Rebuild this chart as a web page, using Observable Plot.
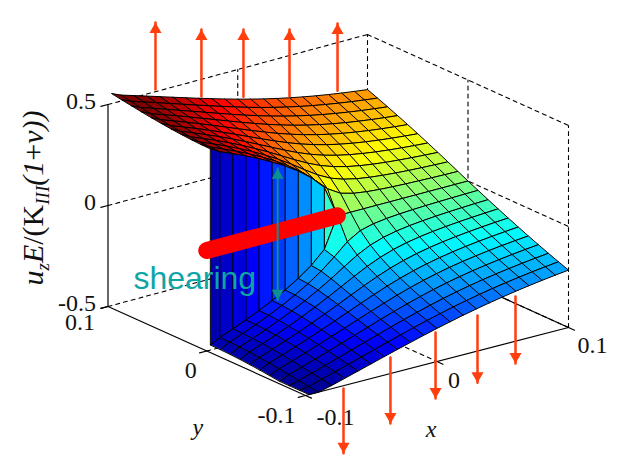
<!DOCTYPE html>
<html>
<head>
<meta charset="utf-8">
<script src="https://cdn.jsdelivr.net/npm/d3@7"></script>
<script src="https://cdn.jsdelivr.net/npm/@observablehq/plot@0.6"></script>
<style>html,body{margin:0;padding:0;background:#fff}svg{display:block}</style>
</head>
<body>
<div id="chart"></div>
<script>
// Surface table (thousandths of the sheet amplitude)
const gridX = [-0.097,-0.09,-0.08,-0.07,-0.06,-0.05,-0.04,-0.03,-0.02,-0.01,0,0.01,0.02,0.03,0.04,0.05,0.06,0.07,0.08,0.09,0.1];
const gridY = [0.1,0.09,0.08,0.07,0.06,0.05,0.04,0.03,0.02,0.01,0];
const sheetShape = [
[3474,3351,3225,3099,2972,2844,2718,2592,2470,2350,2236,2128,2024,1929,1840,1758,1682,1613,1550,1492,1439],
[3425,3296,3166,3033,2900,2766,2631,2499,2369,2242,2121,2007,1900,1801,1710,1627,1552,1484,1421,1365,1314],
[3377,3243,3108,2969,2828,2686,2544,2403,2263,2129,2000,1879,1768,1665,1572,1489,1414,1347,1287,1233,1184],
[3332,3194,3052,2907,2759,2608,2456,2304,2154,2009,1871,1742,1625,1519,1425,1342,1269,1204,1147,1096,1050],
[3291,3148,3000,2848,2691,2531,2368,2203,2040,1882,1732,1594,1471,1362,1267,1185,1115,1053,1000,953,912],
[3254,3106,2952,2793,2628,2457,2281,2101,1922,1746,1581,1432,1301,1190,1096,1018,951,895,847,805,768],
[3223,3070,2911,2744,2570,2388,2197,2000,1799,1600,1414,1250,1112,1000,910,838,778,729,687,651,621],
[3197,3040,2876,2703,2521,2327,2121,1903,1674,1443,1225,1040,896,788,707,645,595,555,522,493,469],
[3178,3018,2850,2672,2482,2279,2058,1817,1554,1272,1000,786,644,550,486,439,403,374,351,331,315],
[3166,3004,2834,2652,2458,2247,2015,1755,1455,1099,707,455,344,285,248,223,203,189,176,166,158],
[3162,3000,2828,2646,2449,2236,2000,1732,1414,1000,0,0,0,0,0,0,0,0,0,0,0]
];
const upperAmp = 0.158, lowerAmp = -0.15;

const xTicks = [-0.1,0,0.1];
const yTicks = [0.1,0,-0.1];
const zTicks = [0.5,0,-0.5];
const xTickText = ["-0.1","0","0.1"];
const yTickText = ["0.1","0","-0.1"];
const zTickText = ["0.5","0","-0.5"];

// Shear arrows: x position, z at tail, z at tip
const topArrowX = [-0.0634,-0.028,0.0044,0.0399,0.0769];
const topArrowTail = [0.511,0.415,0.358,0.297,0.262];
const topArrowTip = [0.843,0.747,0.690,0.629,0.595];
const botArrowX = [-0.0711,-0.0354,-0.0011,0.0308,0.0597];
const botArrowTail = [-0.514,-0.42,-0.354,-0.323,-0.278];
const botArrowTip = [-0.837,-0.749,-0.682,-0.657,-0.611];

// Camera: screen position of the box corners (floor and ceiling)
const floorC = {A:[107.5,306],B:[305,395],C:[568,327],D:[367,236]};
const ceilC = {A:[107.5,104],B:[305,195],C:[568,125],D:[367,34]};

function bilin(c,x,y,k){
  const u=(x+0.1)/0.2, v=(y+0.1)/0.2;
  return (1-u)*(1-v)*c.B[k]+u*(1-v)*c.C[k]+u*v*c.D[k]+(1-u)*v*c.A[k];
}
const px=(x,y,z)=>{const t=z+0.5;return bilin(floorC,x,y,0)*(1-t)+bilin(ceilC,x,y,0)*t;};
const py=(x,y,z)=>{const t=z+0.5;return bilin(floorC,x,y,1)*(1-t)+bilin(ceilC,x,y,1)*t;};

const X=d=>px(d.x,d.y,d.z), Y=d=>py(d.x,d.y,d.z);
const P=(x,y,z)=>({x,y,z});
const seg=(a,b,s)=>[{...a,s},{...b,s}];

// Surface cells, far to near
const upperZ=(r,c)=>upperAmp*sheetShape[r][c]/1000;
const lowerZ=(r,c)=>Math.max(-0.5,lowerAmp*sheetShape[r][c]/1000);
const verts=[]; let id=0;
function quad(pts,v){id++;for(const p of pts)verts.push({...p,id,v});}
function sheet(rows,zf,sgn){
  for(const r of rows){
    for(let c=gridX.length-2;c>=0;c--){
      const y0=sgn*gridY[r], y1=sgn*gridY[r+1];
      const pts=[P(gridX[c],y0,zf(r,c)),P(gridX[c+1],y0,zf(r,c+1)),P(gridX[c+1],y1,zf(r+1,c+1)),P(gridX[c],y1,zf(r+1,c))];
      quad(pts,d3.mean(pts,p=>p.z));
    }
  }
}
const rowIdx=d3.range(gridY.length-1);
sheet(rowIdx,upperZ,1);
const jr=gridY.length-1;
for(let c=9;c>=0;c--){
  const pts=[P(gridX[c],0,lowerZ(jr,c)),P(gridX[c+1],0,lowerZ(jr,c+1)),P(gridX[c+1],0,upperZ(jr,c+1)),P(gridX[c],0,upperZ(jr,c))];
  quad(pts,(lowerZ(jr,c)+lowerZ(jr,c+1))/2);
}
sheet(rowIdx.slice().reverse(),lowerZ,-1);

// Box
const solid=[], dashed=[];
const L=-0.1,H=0.1;
let s=0;
const addS=(a,b)=>solid.push(...seg(a,b,s++));
const addD=(a,b)=>dashed.push(...seg(a,b,s++));
addS(P(L,H,-0.5),P(L,H,0.5));
addS(P(L,H,-0.5),P(L,L,-0.5));
addS(P(L,L,-0.5),P(H,L,-0.5));
addS(P(H,H,-0.5),P(H,L,-0.5));
for(const z of zTicks){
  addD(P(L,H,z),P(H,H,z));
  addD(P(H,H,z),P(H,L,z));
  addS(P(L,H,z),P(L-0.0055,H,z));
}
addD(P(H,H,-0.5),P(H,H,0.5));
addD(P(H,L,-0.5),P(H,L,0.5));
addD(P(0,H,-0.5),P(0,H,0.5));
addD(P(H,0,-0.5),P(H,0,0.5));
addD(P(0,H,-0.5),P(0,L,-0.5));
addD(P(L,0,-0.5),P(H,0,-0.5));
for(const y of yTicks) addS(P(L,y,-0.5),P(L-0.0055,y,-0.5));
for(const x of xTicks) addS(P(x,L,-0.5),P(x,L-0.006,-0.5));

const topArrows=topArrowX.map((x,i)=>seg(P(x,H,topArrowTail[i]),P(x,H,topArrowTip[i]),i)).flat();
const botArrows=botArrowX.map((x,i)=>seg(P(x,L,botArrowTail[i]),P(x,L,botArrowTip[i]),i)).flat();
const topHeads=topArrowX.map((x,i)=>P(x,H,topArrowTip[i]));
const botHeads=botArrowX.map((x,i)=>P(x,L,botArrowTip[i]));
const shearTop=P(-0.0457,0,0.314), shearBot=P(-0.0457,0,-0.34);
const ORANGE="#ff3d0d", TEAL="#0a9292";
const serif="'Liberation Serif','Times New Roman',serif";

const xLabOff=[[30,22],[17,19],[24,18]];
const yLabOff=[[-28,16],[-16,19],[-29,20]];

const plot=Plot.plot({
  width:625,height:467,margin:0,
  x:{domain:[0,625],axis:null},
  y:{domain:[467,0],axis:null},
  color:{type:"linear",domain:[-0.5,-0.375,-0.125,0.125,0.375,0.5],
    range:["#00008f","#0000ff","#00ffff","#ffff00","#ff0000","#800000"],clamp:true},
  style:{background:"#fff"},
  marks:[
    Plot.line(dashed,{x:X,y:Y,z:"s",stroke:"#000",strokeWidth:1.1,strokeDasharray:"4 4"}),
    Plot.line(solid,{x:X,y:Y,z:"s",stroke:"#000",strokeWidth:1.2}),
    Plot.line(verts,{x:X,y:Y,z:"id",fill:"v",stroke:"#000",strokeWidth:1,curve:"linear-closed"}),
    Plot.line(seg(P(L,0,0),P(0,0,0),0),{x:X,y:Y,stroke:"#ff0000",strokeWidth:17,strokeLinecap:"round"}),
    Plot.text(["shearing"],{x:()=>px(L,0,-0.13),y:()=>py(L,0,-0.13),dx:-12,dy:2,fill:"#10a5a5",fontSize:32,fontFamily:"'Liberation Sans',Arial,sans-serif"}),
    Plot.line(seg(shearTop,shearBot,0),{x:X,y:Y,stroke:TEAL,strokeWidth:2}),
    Plot.dot([shearTop],{x:X,y:Y,symbol:"triangle",r:4.4,fill:TEAL,dy:7}),
    Plot.dot([shearBot],{x:X,y:Y,symbol:"triangle",r:4.4,fill:TEAL,rotate:180,dy:-7}),
    Plot.line(topArrows,{x:X,y:Y,z:"s",stroke:ORANGE,strokeWidth:2.5}),
    Plot.line(botArrows,{x:X,y:Y,z:"s",stroke:ORANGE,strokeWidth:2.5}),
    Plot.dot(topHeads,{x:X,y:Y,symbol:"triangle",r:4.5,fill:ORANGE,dy:7}),
    Plot.dot(botHeads,{x:X,y:Y,symbol:"triangle",r:4.5,fill:ORANGE,rotate:180,dy:-7}),
    Plot.text(zTicks,{x:()=>px(L,H,0),y:z=>py(L,H,z),text:(z,i)=>zTickText[i],textAnchor:"end",dx:-12,dy:-3,fontSize:24,fontFamily:serif,fill:"#111"}),
    ...yTicks.map((v,i)=>Plot.text([v],{x:()=>px(L,v,-0.5),y:()=>py(L,v,-0.5),text:()=>yTickText[i],dx:yLabOff[i][0],dy:yLabOff[i][1],fontSize:24,fontFamily:serif,fill:"#111"})),
    ...xTicks.map((v,i)=>Plot.text([v],{x:()=>px(v,L,-0.5),y:()=>py(v,L,-0.5),text:()=>xTickText[i],dx:xLabOff[i][0],dy:xLabOff[i][1],fontSize:24,fontFamily:serif,fill:"#111"})),
    Plot.text(["x"],{x:()=>px(0,L,-0.5),y:()=>py(0,L,-0.5),dx:-6,dy:68,fontSize:24,fontStyle:"italic",fontFamily:serif,fill:"#111"}),
    Plot.text(["y"],{x:()=>px(L,0,-0.5),y:()=>py(L,0,-0.5),dx:-9,dy:76,fontSize:24,fontStyle:"italic",fontFamily:serif,fill:"#111"}),
    Plot.text(["uzE/(KIII(1+ν))"],{frameAnchor:"left",textAnchor:"middle",dx:33,dy:-36,rotate:-90,fontSize:30,fontFamily:serif,fill:"#111",className:"zlabel"})
  ]
});
const t=plot.querySelector(".zlabel text");
if(t){
  t.textContent="";
  const parts=[["u","italic",0,30],["z","italic",6,19],["E","italic",-6,30],["/(K","normal",0,30],["III","italic",6,19],["(1","italic",-6,30],["+","normal",0,30],["ν","italic",0,30],["))","italic",0,30]];
  for(const [txt,st,dy,fs] of parts){
    const ts=document.createElementNS("http://www.w3.org/2000/svg","tspan");
    ts.textContent=txt;
    ts.setAttribute("font-style",st);
    ts.setAttribute("font-size",fs);
    if(dy) ts.setAttribute("dy",dy);
    t.appendChild(ts);
  }
}
document.getElementById("chart").appendChild(plot);
</script>
</body>
</html>
